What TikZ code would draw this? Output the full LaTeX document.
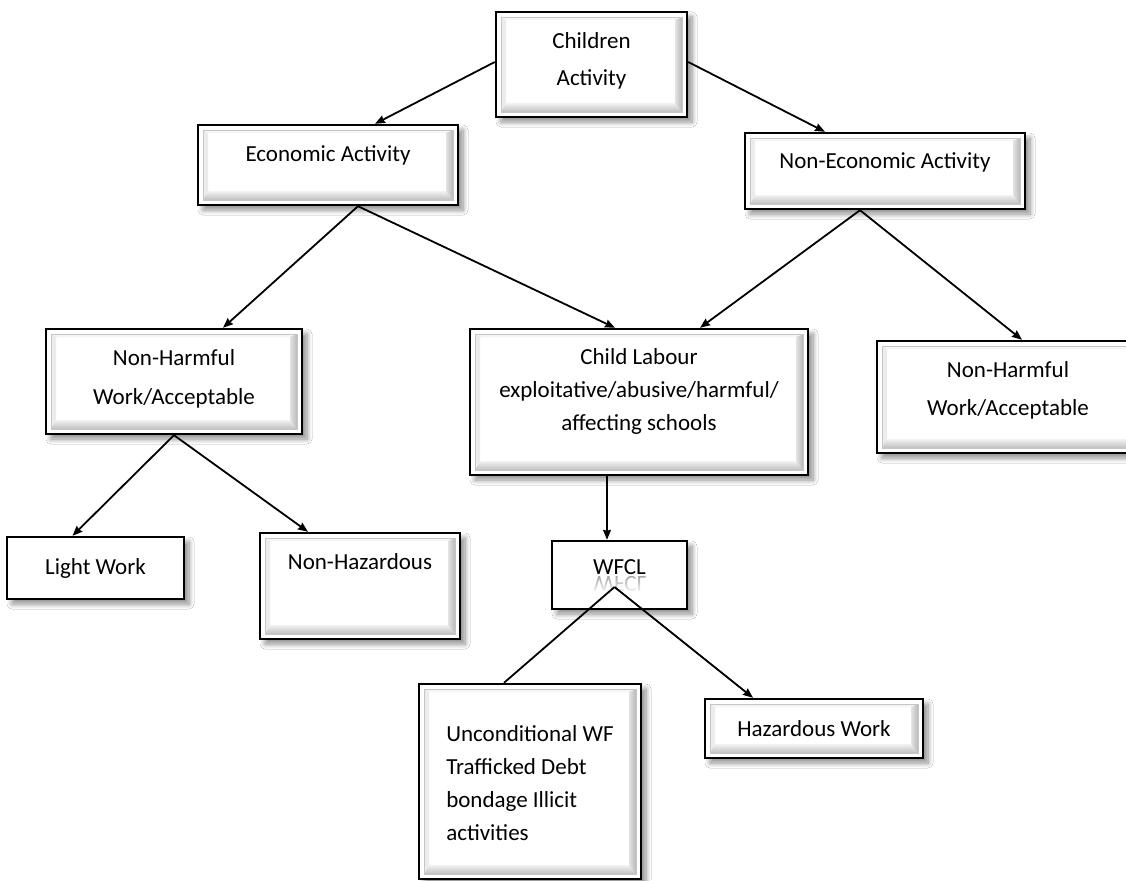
\documentclass[tikz,border=0pt]{standalone}
\usepackage{fontspec}
\setmainfont{Carlito}
\usetikzlibrary{calc,shadows.blur,arrows.meta,fadings}

% text block inside a box: lift, line stretch, column type, lines
\newcommand\boxtext[4][c]{\raisebox{#2}[\height][\depth]{\renewcommand\arraystretch{#3}\begin{tabular}{@{}#1@{}}#4\end{tabular}}}

\tikzset{
  lbl/.style={font=\fontsize{23}{33}\selectfont, inner sep=0pt, text=black},
  shadowed/.style={blur shadow={shadow xshift=5pt, shadow yshift=-5pt,
      shadow blur radius=5pt, shadow blur steps=10, shadow opacity=45}},
  plainbox/.style={lbl, shadowed, rectangle, draw=black, line width=2.4pt, fill=white},
  bevelbox/.style={plainbox, path picture={
      \coordinate (bvSW) at ([shift={(5pt,5pt)}]path picture bounding box.south west);
      \coordinate (bvNE) at ([shift={(-5pt,-5pt)}]path picture bounding box.north east);
      \coordinate (bvsw) at ([shift={(10pt,14pt)}]path picture bounding box.south west);
      \coordinate (bvne) at ([shift={(-12pt,-8pt)}]path picture bounding box.north east);
      \fill[gray!8] (bvSW |- bvNE) -- (bvNE) -- (bvne) -- (bvsw |- bvne) -- cycle;
      \fill[gray!15] (bvSW) -- (bvSW |- bvNE) -- (bvsw |- bvne) -- (bvsw) -- cycle;
      \shade[top color=gray!10, bottom color=gray!50]
        (bvSW) -- (bvNE |- bvSW) -- (bvne |- bvsw) -- (bvsw) -- cycle;
      \shade[left color=gray!22, right color=gray!55]
        (bvNE |- bvSW) -- (bvNE) -- (bvne) -- (bvne |- bvsw) -- cycle;
      \draw[gray!45, line width=0.6pt] (bvSW) rectangle (bvNE);
    }},
  size/.style 2 args={minimum width=#1, minimum height=#2},
  link/.style={line width=1.8pt, draw=black},
  arr/.style={link, -{Stealth[length=10pt,width=8pt,inset=1pt]}},
}

\begin{document}
\begin{tikzpicture}[x=1pt, y=-1pt]
  \fill[white] (0,0) rectangle (1126,880);
  \useasboundingbox (0,0) rectangle (1126,880);

  % boxes
  \node[bevelbox, size={191pt}{105pt}] (ca) at (591.5,64.5)
    {\boxtext{4.5pt}{1.12}{Children\\Activity}};
  \node[bevelbox, size={260pt}{80pt}] (ea) at (328,165)
    {\boxtext{10pt}{1}{Economic Activity}};
  \node[bevelbox, size={280pt}{76pt}] (nea) at (885,171)
    {\boxtext{9pt}{1}{Non-Economic Activity}};
  \node[bevelbox, size={256pt}{105pt}] (nhl) at (174,381.5)
    {\boxtext{4pt}{1.18}{Non-Harmful\\Work/Acceptable}};
  \node[bevelbox, size={338pt}{146pt}] (cl) at (639,402)
    {\boxtext{11pt}{1}{Child Labour\\exploitative/abusive/harmful/\\affecting schools}};
  \node[bevelbox, size={262pt}{112pt}] (nhr) at (1008,397)
    {\boxtext{8pt}{1.15}{Non-Harmful\\Work/Acceptable}};
  \node[plainbox, size={177pt}{62pt}] (lw) at (95.5,568) {Light Work};
  \node[bevelbox, size={200pt}{106pt}] (nh) at (360,586)
    {\boxtext{23pt}{1}{Non-Hazardous}};
  \node[plainbox, size={135pt}{68pt}] (wf) at (619.5,575)
    {\boxtext{7pt}{1}{WFCL}};
  \node[bevelbox, size={222pt}{195pt}] (un) at (530,781.5)
    {\boxtext[l]{-2.5pt}{1}{Unconditional WF\\Trafficked Debt\\bondage Illicit\\activities}};
  \node[bevelbox, size={218pt}{59pt}] (hw) at (814,728.5) {Hazardous Work};

  % faded reflection under the WFCL label
  \begin{scope}
    \clip (560,576) rectangle (680,594);
    \node[lbl, anchor=base, opacity=0.35] (wfrefl) at (620,576.5)
      {\scalebox{1}[-1]{WFCL}};
    \fill[white, path fading=north] (560,576) rectangle (680,594);
  \end{scope}

  % connectors
  \coordinate (eaj)  at ([xshift=30pt]ea.south);
  \coordinate (neaj) at ([xshift=-25pt]nea.south);
  \coordinate (clj)  at ([xshift=-32pt]cl.south);
  \coordinate (wfapex) at ([shift={(-5pt,-12pt)}]wf.center);

  \draw[arr] ([yshift=2.5pt]ca.west) -- ([xshift=47pt]ea.north);
  \draw[arr] ([yshift=2.5pt]ca.east) -- ([xshift=-60pt]nea.north);
  \draw[arr] (eaj) -- ([xshift=49pt]nhl.north);
  \draw[arr] (eaj) -- ([xshift=-24pt]cl.north);
  \draw[arr] (neaj) -- ([xshift=61pt]cl.north);
  \draw[arr] (neaj) -- ([xshift=14pt]nhr.north);
  \draw[arr] (nhl.south) -- ([xshift=-23pt]lw.north);
  \draw[arr] (nhl.south) -- ([xshift=-52pt]nh.north);
  \draw[arr] (clj) -- (clj |- wf.north);
  \draw[link] (wfapex) -- ([xshift=-26pt]un.north);
  \draw[arr] (wfapex) -- ([xshift=-61pt]hw.north);
\end{tikzpicture}
\end{document}
